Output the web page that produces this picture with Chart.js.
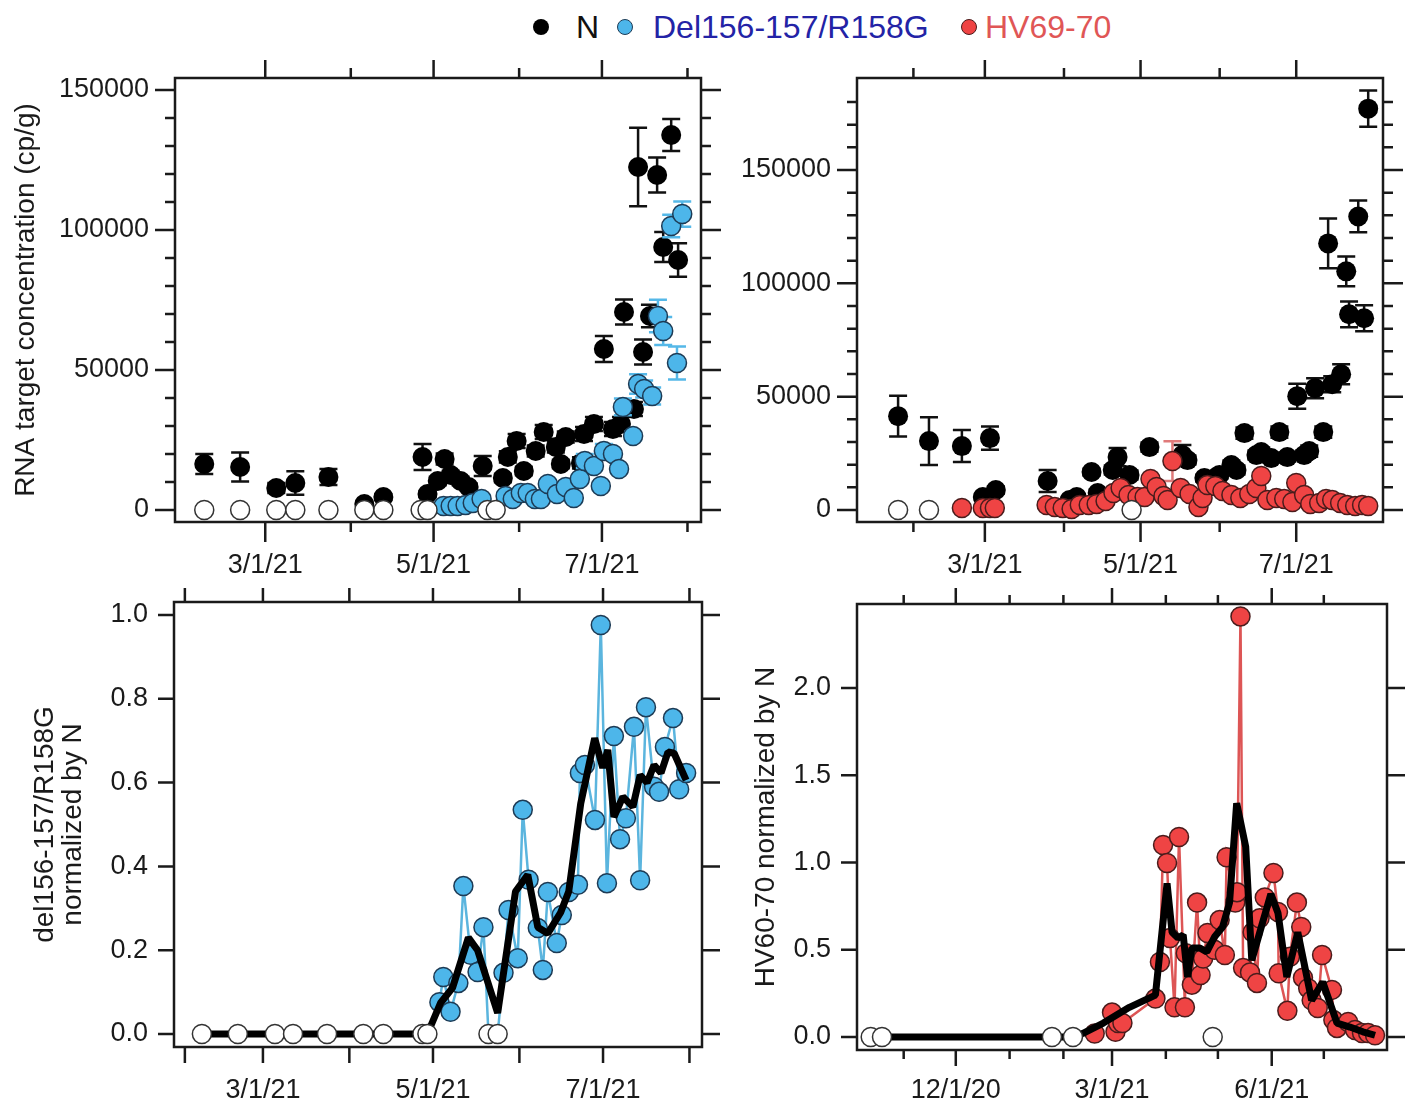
<!DOCTYPE html>
<html>
<head>
<meta charset="utf-8">
<script src="https://cdn.jsdelivr.net/npm/chart.js@4.4.1/dist/chart.umd.min.js"></script>
<style>
  body { margin: 0; width: 1406px; height: 1103px; background: #fff; position: relative; overflow: hidden;
         font-family: "Liberation Sans", Arial, Helvetica, sans-serif; }
  canvas { position: absolute; }
  .key { position: absolute; top: 7px; font-size: 32px; line-height: 40px; white-space: nowrap; }
  .dot { position: absolute; top: 19px; width: 16px; height: 16px; border-radius: 50%; box-sizing: border-box; }
</style>
</head>
<body>
<span class="dot" style="left:533px;background:#000"></span>
<span class="key" style="left:576px;color:#111">N</span>
<span class="dot" style="left:617px;background:#4db6ea;border:1.5px solid #1d3b55"></span>
<span class="key" style="left:653px;color:#2323a6">Del156-157/R158G</span>
<span class="dot" style="left:961px;background:#ef4444;border:1.5px solid #4a1c1c"></span>
<span class="key" style="left:985px;color:#e05656">HV69-70</span>

<canvas id="p1" width="740" height="547" style="left:0;top:48px"></canvas>
<canvas id="p2" width="686" height="547" style="left:720px;top:48px"></canvas>
<canvas id="p3" width="740" height="528" style="left:0;top:575px"></canvas>
<canvas id="p4" width="686" height="528" style="left:720px;top:575px"></canvas>

<script>
// x values are days counted from 1 Jan 2021

// ---- Top left: N and Del156-157/R158G concentration (cp/g)
const n1Days = [36.9, 49.9, 63.0, 69.9, 81.9, 94.9, 101.8, 116.0, 117.8, 121.5, 124.0, 126.2, 129.8, 132.7, 137.8,
    145.1, 146.9, 150.1, 152.7, 157.0, 159.9, 164.3, 166.1, 167.9, 173.4, 174.5, 178.1, 181.7, 185.0, 187.9,
    189.0, 192.6, 194.1, 195.9, 198.4, 201.0, 203.2, 206.1, 208.6];
const n1Vals = [16430, 15360, 7860, 9640, 11790, 2140, 4640, 18930, 5710, 10360, 18210, 12500, 10360, 8210, 15710,
    11430, 18930, 24640, 13930, 21070, 27860, 22500, 16430, 26070, 16790, 27140, 30710, 57500, 28930, 30710,
    70710, 36070, 122500, 56430, 69290, 119640, 93930, 133930, 89290];
const n1Err = [3570, 5180, 1800, 4180, 2860, 700, 1000, 4640, 1000, 1500, 2000, 1500, 1500, 1200, 3600,
    1500, 2000, 2500, 1500, 2000, 2500, 2000, 1500, 2000, 2000, 2500, 2500, 4640, 2500, 2500,
    4460, 2500, 14000, 4460, 4000, 6250, 5360, 5710, 5960];

const del1Days = [123.6, 126.2, 128.7, 131.6, 134.2, 137.4, 146.1, 148.7, 151.6, 154.1, 156.7, 158.9, 161.4, 164.7,
    167.9, 170.8, 173.0, 174.8, 178.1, 180.6, 181.7, 185.0, 187.2, 188.6, 192.3, 194.1, 196.3, 199.2, 201.3,
    203.2, 206.1, 208.2, 210.1];
const del1Vals = [1430, 1430, 1430, 1790, 2500, 3930, 5000, 3930, 6070, 6070, 3930, 3930, 9290, 5710,
    8210, 4290, 11070, 17500, 15710, 8570, 21070, 20000, 14640, 36790, 26430, 45000, 43210, 40710, 69290,
    63930, 101430, 52500, 105710];
const del1Err = [1500, 1500, 1500, 1500, 1500, 1500, 1500, 1500, 1500, 1500, 1500, 1500, 1500, 1500,
    1500, 1500, 1500, 2500, 1500, 1500, 2500, 1500, 1500, 3000, 1500, 3500, 3000, 3000, 5800,
    5000, 4000, 5900, 4500];
const del1Zero = [36.9, 49.9, 63.0, 69.9, 81.9, 94.9, 101.8, 115.3, 117.8, 139.5, 142.5];

// ---- Top right: N and HV69-70 concentration (cp/g)
const n2Days = [25.0, 37.1, 50.0, 58.2, 61.0, 63.3, 83.6, 92.2, 95.0, 100.8, 103.2, 109.1, 111.0, 115.7, 123.5,
    136.4, 138.4, 145.0, 149.7, 150.9, 155.6, 157.6, 160.7, 165.4, 167.3, 171.2, 174.4, 177.5, 181.4, 184.1,
    186.1, 188.4, 191.6, 193.5, 195.1, 198.6, 200.6, 201.7, 205.3, 207.6, 209.2];
const n2Vals = [41400, 30390, 28190, 5730, 31720, 8810, 12770, 4400, 5730, 16740, 7490, 17620, 23350, 15420, 27750,
    24230, 22030, 14100, 14540, 15420, 19820, 17620, 33920, 24230, 25550, 22910, 34360, 23350, 50220, 24230,
    25990, 53740, 34360, 117610, 55500, 59910, 105280, 86340, 129510, 84580, 177080];
const n2Err = [9030, 10570, 7050, 1000, 5150, 1500, 4850, 1000, 1000, 1500, 1500, 2000, 4000, 2000, 2000,
    4400, 2000, 1500, 1500, 1500, 2000, 2000, 2500, 2000, 2000, 2000, 2500, 2000, 5500, 2000,
    2500, 4400, 2500, 11000, 3500, 4400, 6600, 5700, 7000, 5700, 8000];

const hv2Days = [50.0, 58.2, 61.0, 62.9, 83.2, 86.4, 89.5, 93.0, 96.2, 99.7, 102.8, 106.3, 109.4, 112.2, 115.3,
    118.8, 121.6, 123.9, 126.3, 129.0, 130.6, 132.5, 135.7, 139.2, 142.7, 144.3, 146.2, 149.3, 152.1, 155.6,
    159.1, 162.6, 165.4, 167.3, 169.7, 173.2, 176.3, 179.5, 181.0, 184.1, 186.5, 190.0, 192.7, 195.1, 198.2,
    201.0, 204.1, 206.8, 209.2];
const hv2Vals = [880, 880, 880, 880, 2200, 1320, 880, 440, 2200, 2200, 2640, 3960, 7490, 9690, 6610,
    5730, 5730, 13660, 10130, 6170, 4400, 21580, 9690, 7050, 1320, 5290, 11010, 10570, 8370, 6610,
    5290, 7050, 9690, 14980, 4400, 5290, 4850, 3520, 11890, 6610, 2640, 3080, 4850, 4400, 3080,
    2200, 1760, 2200, 1760];
const hv2Err = [800, 800, 800, 800, 800, 800, 800, 800, 800, 800, 800, 800, 800, 800, 800,
    800, 800, 800, 800, 800, 800, 8800, 800, 800, 800, 800, 800, 800, 800, 800,
    800, 800, 800, 800, 800, 800, 800, 800, 800, 800, 800, 800, 800, 800, 800,
    800, 800, 800, 800];
const hv2Zero = [25.0, 37.1, 116.5];

// ---- Bottom left: del156-157/R158G normalized by N
const del3Days = [37.1, 50.0, 63.3, 69.8, 82.0, 95.0, 102.2, 116.2, 118.0, 122.3, 123.7, 126.3, 129.1, 130.9, 133.5,
    136.0, 138.1, 139.9, 143.2, 145.3, 147.1, 150.4, 152.2, 154.3, 157.6, 159.4, 161.2, 164.4, 166.2, 168.7,
    172.0, 172.7, 174.5, 178.1, 180.2, 182.4, 184.9, 187.1, 189.2, 192.1, 194.3, 196.4, 199.3, 201.1, 203.2,
    206.1, 208.3, 210.8];
const del3Vals = [0, 0, 0, 0, 0, 0, 0, 0, 0, 0.076, 0.136, 0.053, 0.122, 0.353, 0.189,
    0.148, 0.255, 0, 0, 0.146, 0.296, 0.181, 0.535, 0.368, 0.253, 0.153, 0.339, 0.217, 0.284, 0.339,
    0.356, 0.623, 0.642, 0.511, 0.976, 0.360, 0.711, 0.465, 0.515, 0.733, 0.367, 0.780, 0.590, 0.578, 0.685,
    0.754, 0.584, 0.623];
const avg3Days = [37.1, 50.0, 63.3, 69.8, 82.0, 95.0, 102.2, 116.2, 118.0, 122.7, 127.0, 132.7, 136.0, 143.2, 149.6,
    154.0, 157.6, 161.2, 165.8, 168.7, 173.0, 178.0, 180.9, 182.7, 184.9, 188.1, 191.7, 194.3, 196.8, 199.3,
    201.8, 204.3, 206.5, 210.8];
const avg3Vals = [0, 0, 0, 0, 0, 0, 0, 0, 0, 0.074, 0.11, 0.23, 0.20, 0.05, 0.34,
    0.38, 0.255, 0.24, 0.29, 0.34, 0.55, 0.706, 0.635, 0.678, 0.518, 0.566, 0.542, 0.618, 0.60, 0.642,
    0.623, 0.673, 0.67, 0.606];

// ---- Bottom right: HV69-70 normalized by N
const hv4Days = [49, 59, 61, 62.5, 65, 84, 86.6, 88.4, 90.7, 92.4, 95, 97.6, 101, 101.5, 105,
    108, 110, 111.5, 114, 118, 121, 124, 125, 130, 131, 133, 134.5, 138.5, 140, 142.5,
    144, 147, 152, 154.6, 155, 160, 161.5, 165.5, 168, 169, 172, 174, 177.5, 180, 185.7,
    186.5, 188.6, 195, 199, 203, 206.5, 210.5];
const hv4Vals = [0.02, 0.14, 0.03, 0.08, 0.08, 0.22, 0.43, 1.10, 0.997, 0.567, 0.17, 1.146, 0.17, 0.48, 0.30,
    0.77, 0.355, 0.45, 0.596, 0.50, 0.67, 0.47, 1.03, 0.77, 0.83, 2.41, 0.395, 0.37, 0.60, 0.31,
    0.68, 0.80, 0.94, 0.716, 0.365, 0.15, 0.46, 0.77, 0.63, 0.34, 0.28, 0.21, 0.166, 0.47, 0.27,
    0.097, 0.052, 0.086, 0.04, 0.023, 0.023, 0.01];
const hv4Zero = [-80, -73.5, 24.4, 36.5, 117];
const avg4Days = [-80, -73.5, 24.4, 36.5, 42, 54, 69, 84, 90.7, 93.6, 97, 100, 102.5, 105, 109.6,
    113.6, 118, 122.7, 126.7, 130.8, 136, 139.5, 144, 150.5, 154.6, 159.7, 166, 174, 180.4, 188.6,
    196, 203.5, 210.5];
const avg4Vals = [0, 0, 0, 0, 0.02, 0.08, 0.17, 0.24, 0.88, 0.60, 0.567, 0.585, 0.344, 0.51, 0.51,
    0.487, 0.573, 0.63, 0.77, 1.34, 1.09, 0.44, 0.596, 0.82, 0.71, 0.344, 0.60, 0.21, 0.315, 0.08,
    0.057, 0.03, 0.01];

// ---- axis ticks
const p1XLabels = [59, 120, 181];
const p1XMinor = [90, 151, 212];
const p1YLabels = [0, 50000, 100000, 150000];
const p1YMinor = [10000, 20000, 30000, 40000, 60000, 70000, 80000, 90000, 110000, 120000, 130000, 140000];
const p2XLabels = [59, 120, 181];
const p2XMinor = [31, 90, 151];
const p2YLabels = [0, 50000, 100000, 150000];
const p2YMinor = [10000, 20000, 30000, 40000, 60000, 70000, 80000, 90000, 110000, 120000, 130000, 140000,
    160000, 170000, 180000];
const p3XLabels = [59, 120, 181];
const p3XMinor = [31, 90, 151, 212];
const p3YLabels = [0, 0.2, 0.4, 0.6, 0.8, 1.0];
const p4XLabels = [-31, 59, 151];
const p4XMinor = [-61, 0, 31, 90, 120, 181];
const p4YLabels = [0, 0.5, 1.0, 1.5, 2.0];

const INK = '#1a1a1a';
const FONT = '"Liberation Sans", Arial, Helvetica, sans-serif';
const BLUE = '#4db6ea';
const RED = '#ef4444';

const pts = (days, vals) => days.map((d, i) => ({ x: d, y: vals[i] }));
const zeros = days => days.map(d => ({ x: d, y: 0 }));

function fmtDay(d) {
    const t = new Date(Date.UTC(2021, 0, 1 + d));
    return (t.getUTCMonth() + 1) + '/' + t.getUTCDate() + '/' + String(t.getUTCFullYear()).slice(2);
}

// box around the plot with outward ticks on all four sides
const frameTicks = {
    id: 'frameTicks',
    beforeDatasetsDraw(chart, args, o) {
        const { ctx, chartArea: a, scales: { x, y } } = chart;
        ctx.save();
        ctx.strokeStyle = INK;
        ctx.lineWidth = 2.5;
        ctx.strokeRect(a.left, a.top, a.right - a.left, a.bottom - a.top);
        ctx.beginPath();
        const xs = (vals, lt, lb) => vals.forEach(v => {
            const px = x.getPixelForValue(v);
            ctx.moveTo(px, a.top); ctx.lineTo(px, a.top - lt);
            ctx.moveTo(px, a.bottom); ctx.lineTo(px, a.bottom + lb);
        });
        const ys = (vals, ll, lr) => vals.forEach(v => {
            const py = y.getPixelForValue(v);
            ctx.moveTo(a.left, py); ctx.lineTo(a.left - ll, py);
            ctx.moveTo(a.right, py); ctx.lineTo(a.right + lr, py);
        });
        xs(o.xMajor, o.top[0], o.bottom[0]);
        xs(o.xMinor, o.top[1], o.bottom[1]);
        ys(o.yMajor, o.left[0], o.right[0]);
        ys(o.yMinor, o.left[1], o.right[1]);
        ctx.stroke();
        ctx.restore();
    }
};

// vertical error bars with caps, drawn under the dataset's markers
const errorBars = {
    id: 'errorBars',
    beforeDatasetDraw(chart, args) {
        const ds = chart.data.datasets[args.index];
        if (!ds.errors) return;
        const { ctx, scales: { x, y } } = chart;
        ctx.save();
        ctx.strokeStyle = ds.errorColor;
        ctx.lineWidth = 2.5;
        ctx.beginPath();
        ds.data.forEach((p, i) => {
            const px = x.getPixelForValue(p.x);
            const top = y.getPixelForValue(p.y + ds.errors[i]);
            const bot = y.getPixelForValue(p.y - ds.errors[i]);
            ctx.moveTo(px, top); ctx.lineTo(px, bot);
            ctx.moveTo(px - 9, top); ctx.lineTo(px + 9, top);
            ctx.moveTo(px - 9, bot); ctx.lineTo(px + 9, bot);
        });
        ctx.stroke();
        ctx.restore();
    }
};

function scales(p) {
    return {
        x: {
            type: 'linear', position: 'bottom', min: p.xMin, max: p.xMax,
            grid: { display: false, drawTicks: false }, border: { display: false },
            afterBuildTicks: s => { s.ticks = p.xLabels.map(v => ({ value: v })); },
            afterFit: s => { s.height = p.xHeight; s.paddingLeft = 0; s.paddingRight = 0; },
            ticks: { autoSkip: false, maxRotation: 0, padding: p.xPad, color: INK,
                     font: { family: FONT, size: 27 }, callback: v => fmtDay(v) }
        },
        y: {
            type: 'linear', position: 'left', min: p.yMin, max: p.yMax,
            grid: { display: false, drawTicks: false }, border: { display: false },
            afterBuildTicks: s => { s.ticks = p.yLabels.map(v => ({ value: v })); },
            afterFit: s => { s.width = p.yWidth; s.paddingTop = 0; s.paddingBottom = 0; },
            ticks: { autoSkip: false, padding: 26, color: INK,
                     font: { family: FONT, size: 27 }, callback: p.yFormat },
            title: p.title ? { display: true, text: p.title, color: INK,
                     font: { family: FONT, size: 28, lineHeight: p.titleLH || 1.2 },
                     padding: { top: p.titlePad, bottom: 0 } } : { display: false }
        }
    };
}

function makePanel(id, datasets, p, ticks) {
    return new Chart(document.getElementById(id), {
        type: 'scatter',
        data: { datasets },
        options: {
            responsive: false,
            animation: false,
            devicePixelRatio: 1,
            layout: { padding: { top: p.padTop, right: p.padRight, left: 0, bottom: 0 } },
            plugins: { legend: { display: false }, tooltip: { enabled: false }, frameTicks: ticks },
            scales: scales(p)
        },
        plugins: [frameTicks, errorBars]
    });
}

const openDots = data => ({ data, order: 0, clip: false, pointRadius: 9.5,
    pointBackgroundColor: '#fff', pointBorderColor: '#333', pointBorderWidth: 1.5 });

// top left
makePanel('p1', [
    openDots(zeros(del1Zero)),
    { label: 'Del156-157/R158G', data: pts(del1Days, del1Vals), errors: del1Err, errorColor: '#55b8e8',
      order: 1, clip: false, pointRadius: 9.5, pointBackgroundColor: BLUE, pointBorderColor: '#1d3b55', pointBorderWidth: 1.5 },
    { label: 'N', data: pts(n1Days, n1Vals), errors: n1Err, errorColor: '#111',
      order: 2, clip: false, pointRadius: 10, pointBackgroundColor: '#000', pointBorderColor: '#000', pointBorderWidth: 0 }
], { xMin: 26.3, xMax: 216.9, yMin: -4300, yMax: 154300, xLabels: p1XLabels, yLabels: p1YLabels,
     yFormat: v => String(v), xHeight: 73, xPad: 27, yWidth: 175, padTop: 30, padRight: 39,
     title: 'RNA target concentration (cp/g)', titlePad: 9 },
   { xMajor: p1XLabels, xMinor: p1XMinor, yMajor: p1YLabels, yMinor: p1YMinor,
     top: [18, 10], bottom: [20, 10], left: [20, 10], right: [20, 10] });

// top right
makePanel('p2', [
    openDots(zeros(hv2Zero)),
    { label: 'HV69-70', data: pts(hv2Days, hv2Vals), errors: hv2Err, errorColor: '#e07a7a',
      order: 1, clip: false, pointRadius: 9.5, pointBackgroundColor: RED, pointBorderColor: '#4a1c1c', pointBorderWidth: 1.5 },
    { label: 'N', data: pts(n2Days, n2Vals), errors: n2Err, errorColor: '#111',
      order: 2, clip: false, pointRadius: 10, pointBackgroundColor: '#000', pointBorderColor: '#000', pointBorderWidth: 0 }
], { xMin: 8.9, xMax: 215.0, yMin: -5300, yMax: 190600, xLabels: p2XLabels, yLabels: p2YLabels,
     yFormat: v => String(v), xHeight: 73, xPad: 27, yWidth: 137, padTop: 30, padRight: 23 },
   { xMajor: p2XLabels, xMinor: p2XMinor, yMajor: p2YLabels, yMinor: p2YMinor,
     top: [18, 10], bottom: [20, 10], left: [20, 10], right: [20, 10] });

// bottom left
makePanel('p3', [
    openDots(zeros(del3Days.filter((d, i) => del3Vals[i] === 0))),
    { label: 'average', data: pts(avg3Days, avg3Vals), order: 1, showLine: true, clip: false,
      borderColor: '#000', borderWidth: 7, borderJoinStyle: 'bevel', pointRadius: 0 },
    { label: 'del156-157/R158G', data: pts(del3Days, del3Vals), order: 2, showLine: true, clip: false,
      borderColor: '#5bb5de', borderWidth: 2.5,
      pointRadius: del3Vals.map(v => v === 0 ? 0 : 9.5),
      pointBackgroundColor: BLUE, pointBorderColor: '#1d3b55', pointBorderWidth: 1.5 }
], { xMin: 27.1, xMax: 216.5, yMin: -0.031, yMax: 1.031, xLabels: p3XLabels, yLabels: p3YLabels,
     yFormat: v => v.toFixed(1), xHeight: 56, xPad: 27, yWidth: 174, padTop: 27, padRight: 38,
     title: ['del156-157/R158G', 'normalized by N'], titleLH: 1.0, titlePad: 31 },
   { xMajor: p3XLabels, xMinor: p3XMinor, yMajor: p3YLabels, yMinor: [],
     top: [14, 14], bottom: [16, 16], left: [16, 10], right: [18, 10] });

// bottom right
makePanel('p4', [
    openDots(zeros(hv4Zero)),
    { label: 'average', data: pts(avg4Days, avg4Vals), order: 1, showLine: true, clip: false,
      borderColor: '#000', borderWidth: 7, borderJoinStyle: 'bevel', pointRadius: 0 },
    { label: 'HV69-70', data: pts(hv4Days, hv4Vals), order: 2, showLine: true, clip: false,
      borderColor: '#dd5555', borderWidth: 2.5, pointRadius: 9.5,
      pointBackgroundColor: RED, pointBorderColor: '#4a1c1c', pointBorderWidth: 1.5 }
], { xMin: -87.9, xMax: 217.4, yMin: -0.0745, yMax: 2.481, xLabels: p4XLabels, yLabels: p4YLabels,
     yFormat: v => v.toFixed(1), xHeight: 53, xPad: 24, yWidth: 137, padTop: 29, padRight: 19,
     title: 'HV60-70 normalized by N', titlePad: 29 },
   { xMajor: p4XLabels, xMinor: p4XMinor, yMajor: p4YLabels, yMinor: [],
     top: [16, 9], bottom: [16, 9], left: [16, 10], right: [18, 10] });
</script>
</body>
</html>
